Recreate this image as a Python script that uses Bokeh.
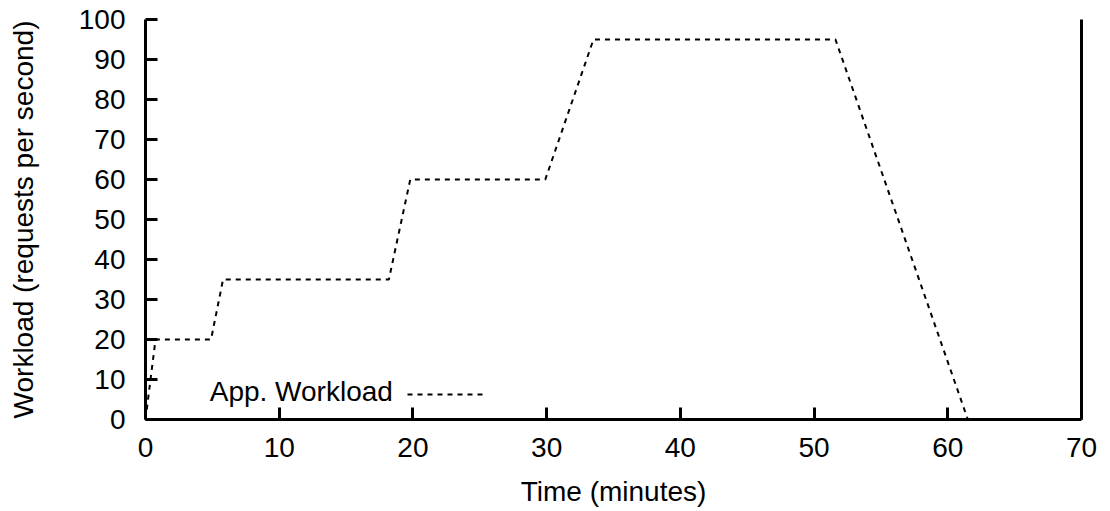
from bokeh.plotting import figure
from bokeh.models import (Range1d, FixedTicker, LinearAxis, Legend, LegendItem, Label)
from bokeh.embed import file_html
from bokeh.resources import INLINE

# ---- data ----
time_min = [0, 0.75, 4.9, 5.8, 18.2, 19.8, 29.9, 33.5, 51.6, 61.5]
workload = [0, 20, 20, 35, 35, 60, 60, 95, 95, 0]
x_ticks = [0, 10, 20, 30, 40, 50, 60, 70]
y_ticks = [0, 10, 20, 30, 40, 50, 60, 70, 80, 90, 100]
series_name = "App. Workload"

FONT = "Liberation Sans"
FS = "28px"

p = figure(width=1108, height=509, output_backend="svg", toolbar_location=None,
           x_range=Range1d(0, 70), y_range=Range1d(0, 100),
           min_border_left=145, min_border_right=27, min_border_top=19, min_border_bottom=88)
p.outline_line_color = None
p.grid.visible = False

r = p.line(time_min, workload, line_color="black", line_width=2, line_dash="5 5")

for ax in (p.xaxis[0], p.yaxis[0]):
    ax.axis_line_width = 3
    ax.major_tick_line_width = 3
    ax.major_tick_in = 12
    ax.major_tick_out = 0
    ax.minor_tick_line_color = None
    ax.major_label_text_font = FONT
    ax.major_label_text_font_size = FS
    ax.major_label_text_color = "black"
    ax.axis_label_text_font = FONT
    ax.axis_label_text_font_size = FS
    ax.axis_label_text_font_style = "normal"
    ax.axis_label_text_color = "black"

p.xaxis.ticker = FixedTicker(ticks=x_ticks)
p.yaxis.ticker = FixedTicker(ticks=y_ticks)
p.xaxis.axis_label = "Time (minutes)"
p.yaxis.axis_label = "Workload (requests per second)"
p.xaxis.major_label_standoff = 18
p.xaxis.axis_label_standoff = 16
p.yaxis.major_label_standoff = 20
p.yaxis.axis_label_standoff = 37

right = LinearAxis(ticker=FixedTicker(ticks=[]), axis_line_width=3,
                   major_tick_line_color=None, minor_tick_line_color=None,
                   major_label_text_font_size="0px", major_label_standoff=0)
p.add_layout(right, "right")

legend = Legend(items=[LegendItem(label="", renderers=[r])], location=(262, 20),
                padding=0, margin=0, spacing=0, glyph_width=79, glyph_height=10,
                label_standoff=0, label_width=0, label_height=0,
                label_text_font_size="1px", border_line_color=None,
                background_fill_alpha=0)
p.add_layout(legend)

p.add_layout(Label(x=18.5, y=7, text=series_name, text_align="right",
                   text_baseline="middle", text_font=FONT, text_font_size=FS,
                   text_color="black"))

open("out.html", "w").write(file_html(p, INLINE))
